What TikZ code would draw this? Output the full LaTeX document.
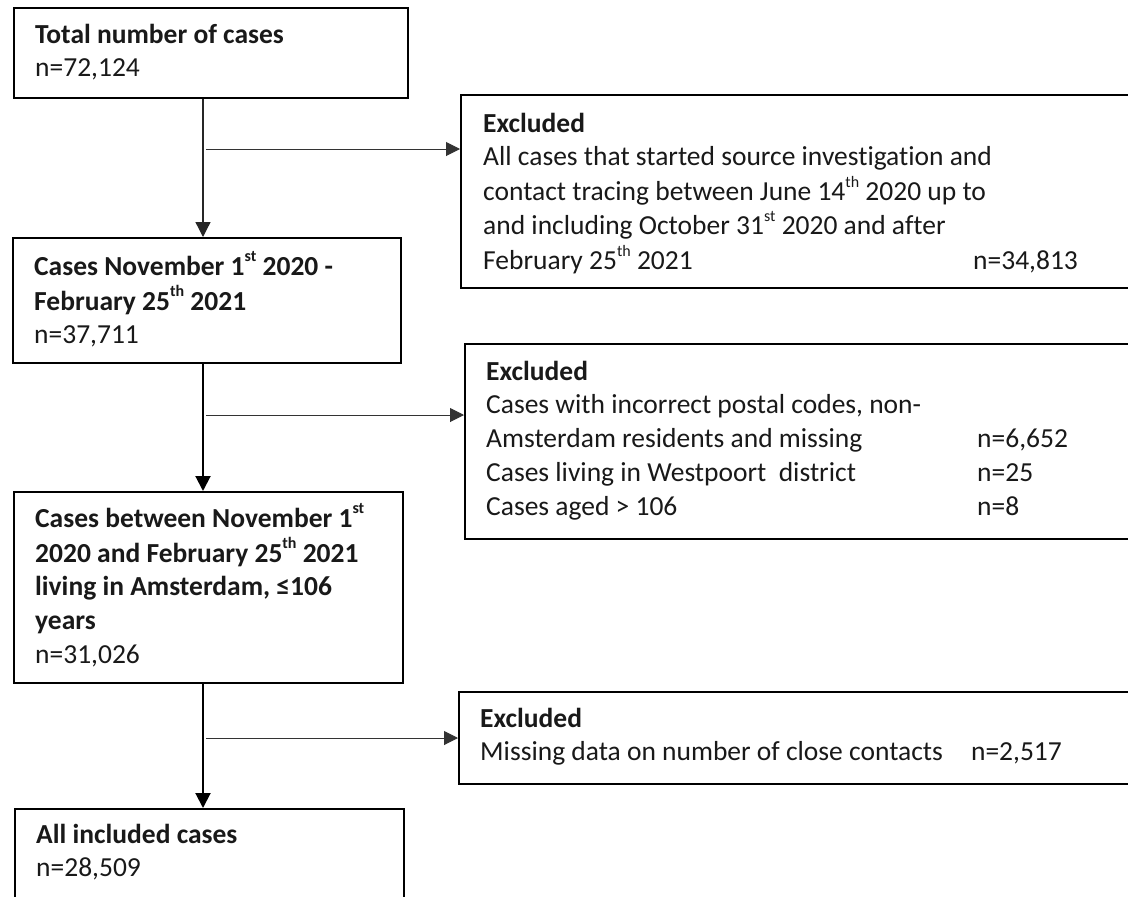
\documentclass[tikz,border=0pt]{standalone}
\usepackage{fontspec}
\setmainfont{Carlito}[Ligatures=NoCommon]
\usetikzlibrary{arrows.meta,calc}
\newcommand\sups[1]{\raisebox{0.5em}{\fontsize{16}{16}\selectfont #1}}
\begin{document}
\begin{tikzpicture}[x=1pt,y=-1pt,
  box/.style={draw=black, line width=2pt, anchor=north west, inner sep=0pt},
  txt/.style={anchor=base west, inner sep=0pt, text=black!90,
    font=\fontsize{27.5}{33.8}\selectfont},
  tip/.style={-{Triangle[length=15pt,width=15pt]}},
  vthin/.style={tip, line width=1.3pt, draw=black!85},
  vthick/.style={tip, line width=2pt, draw=black},
  branch/.style={-{Triangle[length=14pt,width=14pt]}, line width=1pt, draw=black!80}]
\useasboundingbox (0,0) rectangle (1128,897);
\fill[white] (0,0) rectangle (1128,897);
% main boxes
\node[box, minimum width=394pt, minimum height=90pt] (b1) at (13,7) {};
\node[box, minimum width=388pt, minimum height=125pt] (b2) at (12,237) {};
\node[box, minimum width=389pt, minimum height=191pt] (b3) at (13,491) {};
\node[box, minimum width=389pt, minimum height=100pt] (b4) at (14,808) {};
% exclusion boxes
\node[box, minimum width=700pt, minimum height=193pt] (e1) at (460,94) {};
\node[box, minimum width=700pt, minimum height=195pt] (e2) at (464,343) {};
\node[box, minimum width=700pt, minimum height=92pt] (e3) at (458,691) {};
% texts
\node[txt] (t1) at (35,43) {\begin{tabular}[t]{@{}l@{}}\textbf{Total number of cases}\\ n=72,124\end{tabular}};
\node[txt] (t2) at (34,275) {\begin{tabular}[t]{@{}l@{}}\textbf{Cases November 1\sups{st} 2020 -}\\ \textbf{February 25\sups{th} 2021}\\ n=37,711\end{tabular}};
\node[txt] (t3) at (35,527) {\begin{tabular}[t]{@{}l@{}}\textbf{Cases between November 1\sups{st}}\\ \textbf{2020 and February 25\sups{th} 2021}\\ \textbf{living in Amsterdam, ≤106}\\ \textbf{years}\\ n=31,026\end{tabular}};
\node[txt] (t4) at (36,843) {\begin{tabular}[t]{@{}l@{}}\textbf{All included cases}\\ n=28,509\end{tabular}};
\node[txt] (te1) at (483,132) {\begin{tabular}[t]{@{}l@{}}\textbf{Excluded}\\ All cases that started source investigation and\\ contact tracing between June 14\sups{th} 2020 up to\\ and including October 31\sups{st} 2020 and after\\ \makebox[490pt][l]{February 25\sups{th} 2021}n=34,813\end{tabular}};
\node[txt] (te2) at (486,380) {\begin{tabular}[t]{@{}l@{}}\textbf{Excluded}\\ Cases with incorrect postal codes, non-\\ \makebox[491pt][l]{Amsterdam residents and missing}n=6,652\\ \makebox[491pt][l]{Cases living in Westpoort\ \ district}n=25\\ \makebox[491pt][l]{Cases aged > 106}n=8\end{tabular}};
\node[txt] (te3) at (480,727) {\begin{tabular}[t]{@{}l@{}}\textbf{Excluded}\\ \makebox[491pt][l]{Missing data on number of close contacts}n=2,517\end{tabular}};
% junction coordinates
\coordinate (c1) at (203,149);
\coordinate (c2) at (203,415);
\coordinate (c3) at (203,738);
% vertical arrows
\draw[vthin] (c1 |- b1.south) -- (c1 |- b2.north);
\draw[vthick] (c2 |- b2.south) -- (c2 |- b3.north);
\draw[vthick] (c3 |- b3.south) -- (c3 |- b4.north);
% branch arrows
\draw[branch] ([xshift=3pt]c1) -- (c1 -| e1.west);
\draw[branch] ([xshift=3pt]c2) -- (c2 -| e2.west);
\draw[branch] ([xshift=3pt]c3) -- (c3 -| e3.west);
\end{tikzpicture}
\end{document}
